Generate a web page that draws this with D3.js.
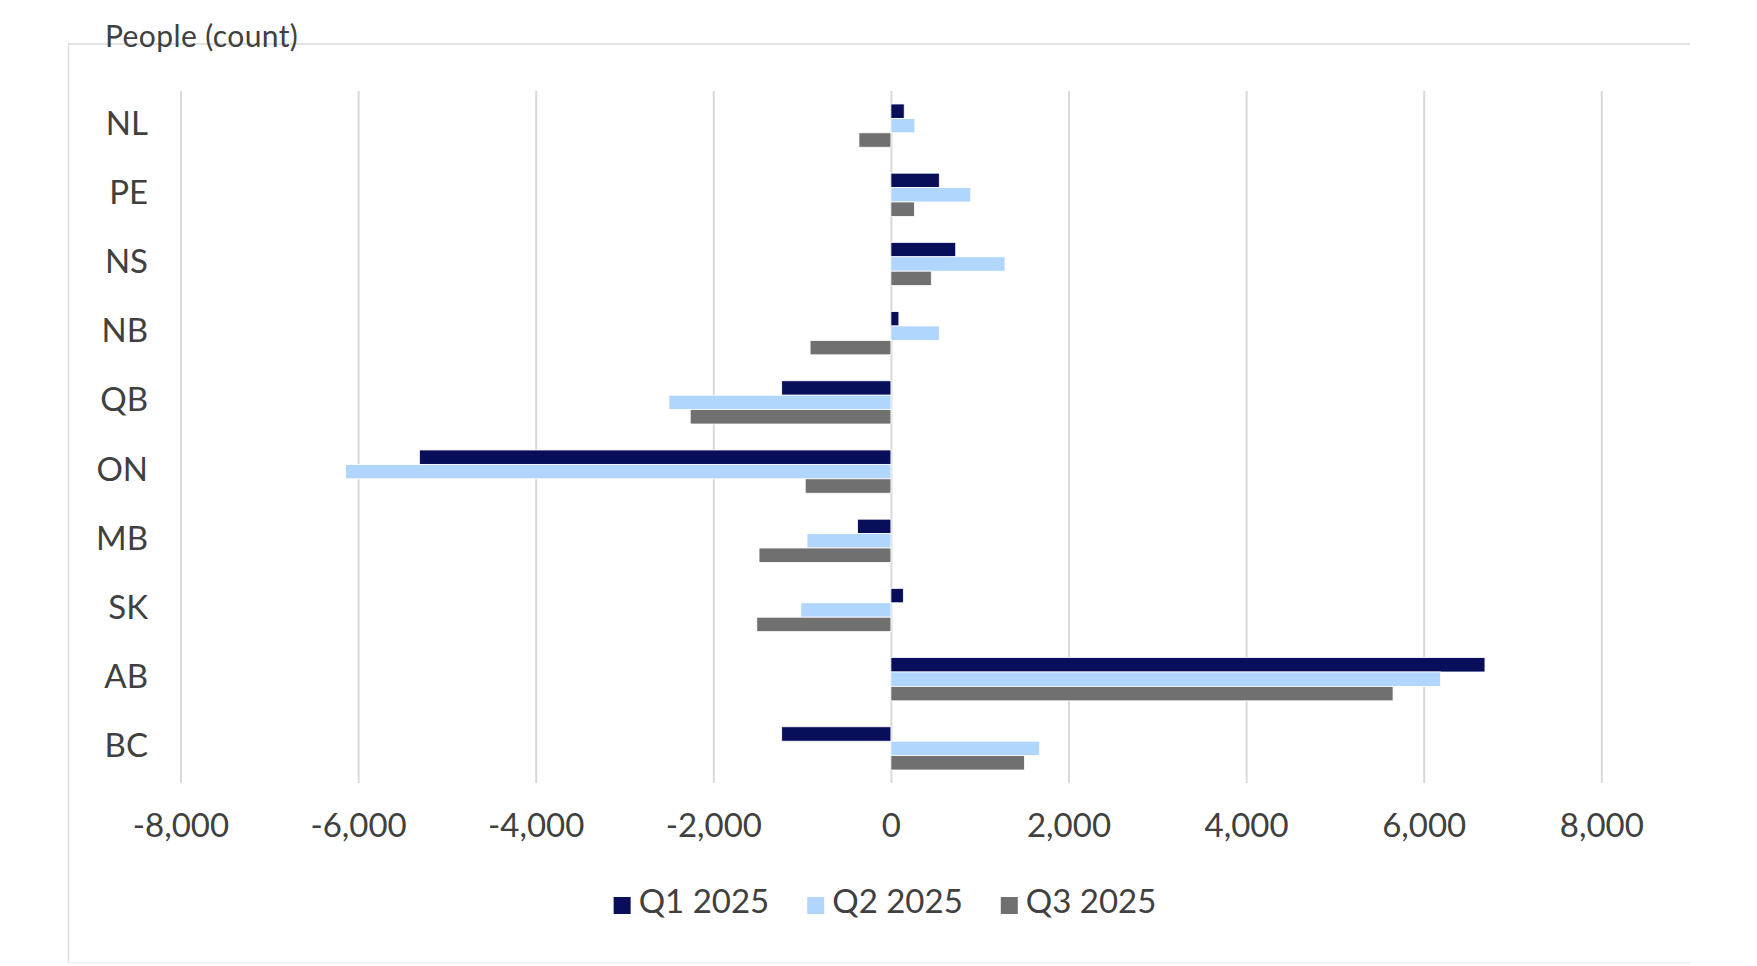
<!DOCTYPE html>
<html>
<head>
<meta charset="utf-8">
<script src="https://cdn.jsdelivr.net/npm/d3@7"></script>
<style>
  html, body { margin: 0; padding: 0; background: #ffffff; }
  svg { display: block; }
  text { font-family: Lato, "Open Sans", sans-serif; fill: #404040; }
</style>
</head>
<body>
<svg id="chart" width="1757" height="966"></svg>
<script>
// ---- data ----
const categories = ["NL", "PE", "NS", "NB", "QB", "ON", "MB", "SK", "AB", "BC"];
const seriesNames = ["Q1 2025", "Q2 2025", "Q3 2025"];
const q1Values = [150, 545, 730, 90, -1230, -5310, -375, 140, 6690, -1230];
const q2Values = [270, 900, 1285, 545, -2500, -6140, -945, -1015, 6190, 1675];
const q3Values = [-360, 265, 455, -910, -2260, -965, -1485, -1510, 5655, 1505];
const xTickValues = [-8000, -6000, -4000, -2000, 0, 2000, 4000, 6000, 8000];
const yAxisTitle = "People (count)";

const seriesValues = [q1Values, q2Values, q3Values];
const colors = ["#080e5a", "#b0d6fe", "#707070"];

// ---- layout ----
const svg = d3.select("#chart");
const plot = { left: 180.5, right: 1601.3, top: 91, bottom: 783 };

// frame
svg.append("line").attr("x1", 68).attr("x2", 1690).attr("y1", 44).attr("y2", 44)
  .attr("stroke", "#d9d9d9").attr("stroke-width", 1.5);
svg.append("line").attr("x1", 68.5).attr("x2", 68.5).attr("y1", 44).attr("y2", 963)
  .attr("stroke", "#dddddd").attr("stroke-width", 1.5);
svg.append("line").attr("x1", 68).attr("x2", 1690).attr("y1", 963).attr("y2", 963)
  .attr("stroke", "#efefef").attr("stroke-width", 1.5);

const x = d3.scaleLinear().domain([-8000, 8000]).range([plot.left, plot.right]);
const y = d3.scaleBand().domain(categories).range([plot.top, plot.bottom]).padding(0);
const step = y.bandwidth();
const barH = step / 4.8;            // Excel gap width 180% of a bar
const groupOffset = (step - 3 * barH) / 2;

const locale = d3.formatLocale({ decimal: ".", thousands: ",", grouping: [3], currency: ["$", ""], minus: "-" });
const fmt = locale.format(",");

// x axis with gridlines
const xAxis = d3.axisBottom(x)
  .tickValues(xTickValues)
  .tickFormat(fmt)
  .tickSize(-(plot.bottom - plot.top));

const gx = svg.append("g")
  .attr("transform", `translate(0,${plot.bottom})`)
  .call(xAxis);
gx.select(".domain").remove();
gx.selectAll(".tick line").attr("stroke", "#d9d9d9").attr("stroke-width", 2);
gx.selectAll(".tick text")
  .attr("y", 54).attr("dy", 0)
  .style("font-family", "Lato, sans-serif")
  .style("font-size", "33px")
  .style("fill", "#404040");

// y axis category labels
const yAxis = d3.axisLeft(y).tickSize(0).tickPadding(0);
const gy = svg.append("g")
  .attr("transform", `translate(148,0)`)
  .call(yAxis);
gy.select(".domain").remove();
gy.selectAll(".tick text")
  .attr("x", 0).attr("dy", 0).attr("y", 9)
  .style("font-family", "Lato, sans-serif")
  .style("font-size", "33px")
  .style("fill", "#404040");

// bars
const bars = svg.append("g");
seriesValues.forEach((vals, si) => {
  bars.selectAll(null)
    .data(vals.map((v, i) => ({ cat: categories[i], v })))
    .enter().append("rect")
    .attr("x", d => Math.min(x(0), x(d.v)))
    .attr("width", d => Math.abs(x(d.v) - x(0)))
    .attr("y", d => y(d.cat) + groupOffset + si * barH)
    .attr("height", barH)
    .attr("fill", colors[si])
    .attr("stroke", "#ffffff")
    .attr("stroke-width", 0.8);
});

// title
svg.append("text")
  .attr("x", 105).attr("y", 46.5)
  .style("font-size", "30px")
  .style("letter-spacing", "0.4px")
  .text(yAxisTitle);

// legend
const legend = svg.append("g");
const sq = 17, gapSq = 8, gapItem = 38;
const items = legend.selectAll("g").data(seriesNames).enter().append("g");
items.append("rect").attr("width", sq).attr("height", sq).attr("y", 897)
  .attr("fill", (d, i) => colors[i]);
items.append("text").attr("x", sq + gapSq).attr("y", 913)
  .style("font-size", "33px").text(d => d);
let widths = [];
items.each(function () { widths.push(sq + gapSq + this.querySelector("text").getComputedTextLength()); });
const total = d3.sum(widths) + gapItem * (widths.length - 1);
let cx = 885 - total / 2;
items.each(function (d, i) {
  d3.select(this).attr("transform", `translate(${cx},0)`);
  cx += widths[i] + gapItem;
});
</script>
</body>
</html>
